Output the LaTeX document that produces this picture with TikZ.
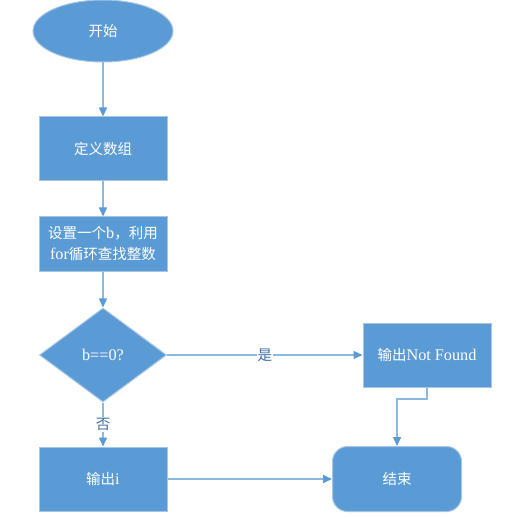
\documentclass[tikz,border=0pt]{standalone}
\usepackage{fontspec}
\setmainfont[Scale=1.12]{Liberation Serif}
\newfontfamily\cjk{Noto Sans CJK SC}
\usetikzlibrary{shapes.geometric,arrows.meta}
\definecolor{boxblue}{HTML}{5B9BD5}
\definecolor{boxedge}{HTML}{A7C6E6}
\definecolor{linkblue}{HTML}{8DB8E2}
\definecolor{labblue}{HTML}{3E70A6}
\tikzset{
  base/.style={fill=boxblue,draw=boxedge,line width=1pt,text=white,inner sep=0pt,
    font=\fontsize{14.5}{21}\selectfont,align=center},
  termnode/.style={base,ellipse,minimum width=140pt,minimum height=62pt},
  procbox/.style={base,rectangle,minimum width=128pt,minimum height=64pt},
  decnode/.style={base,diamond,minimum width=127pt,minimum height=94pt},
  endbox/.style={base,rectangle,rounded corners=15pt,minimum width=129pt,minimum height=65pt},
  link/.style={draw=linkblue,line width=1.5pt,-{Triangle[length=9pt,width=8pt,color=boxblue]}},
  lab/.style={fill=white,text=labblue,inner sep=1pt,font=\fontsize{14.5}{16}\selectfont}
}
\begin{document}
\begin{tikzpicture}[x=1pt,y=-1pt]
\useasboundingbox (0,0) rectangle (521,518);
\node[termnode] (start) at (103,31) {\cjk 开始};
\node[procbox] (def) at (103,149) {\cjk 定义数组};
\node[procbox,minimum height=54pt] (set) at (103,244) {{\cjk 设置一个}b{\cjk ，利用}\\for{\cjk 循环查找整数}};
\node[decnode] (dec) at (103,355) {b==0?};
\node[procbox,minimum height=64pt] (nf) at (427,355) {{\cjk 输出}Not Found};
\node[procbox] (outi) at (103,479) {{\cjk 输出}i};
\node[endbox] (end) at (397,479) {\cjk 结束};
\coordinate (k1) at (427,399);
\coordinate (k2) at (397,399);
\draw[link] (start) -- (def);
\draw[link] (def) -- (set);
\draw[link] (set) -- (dec);
\draw[link] (dec) -- node[lab]{\cjk 是} (nf);
\draw[link] (dec) -- node[lab,pos=0.5]{\cjk 否} (outi);
\draw[link] (outi) -- (end);
\draw[link] (nf.south) -- (k1) -- (k2) -- (end.north);
\end{tikzpicture}
\end{document}
